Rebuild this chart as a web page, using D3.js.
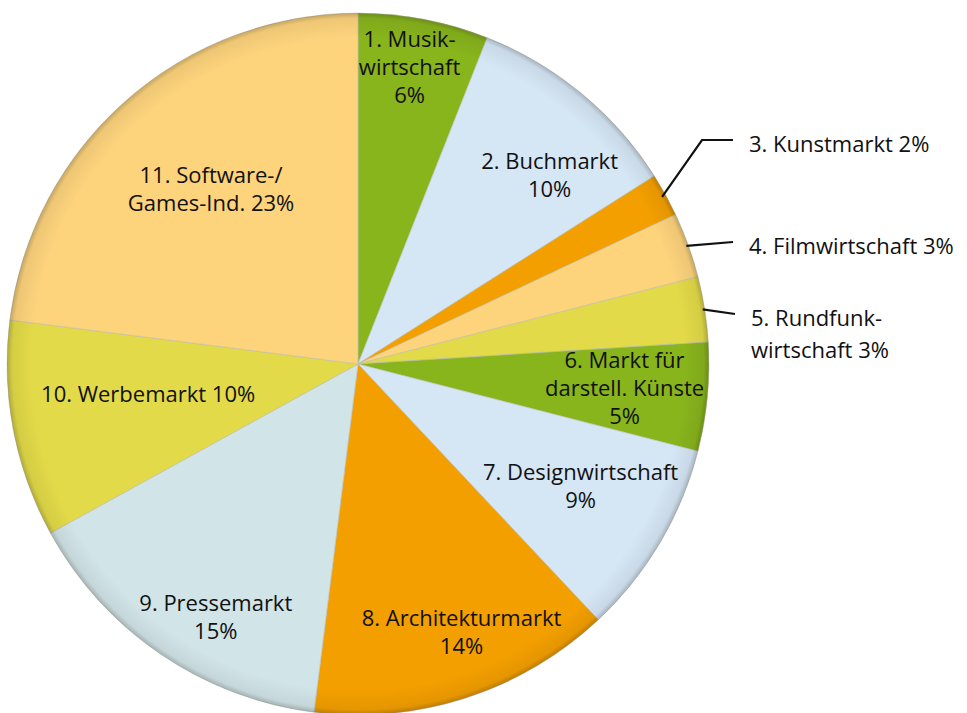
<!DOCTYPE html>
<html><head><meta charset="utf-8">
<script src="https://cdn.jsdelivr.net/npm/d3@7"></script>
<style>body{margin:0;background:#fff}svg{display:block}text{font-family:"Open Sans","Noto Sans",sans-serif;font-size:22px;fill:#111}</style>
</head><body>
<svg id="c" width="967" height="713"></svg>
<script>
const categories = ["1. Musikwirtschaft","2. Buchmarkt","3. Kunstmarkt","4. Filmwirtschaft","5. Rundfunkwirtschaft","6. Markt für darstell. Künste","7. Designwirtschaft","8. Architekturmarkt","9. Pressemarkt","10. Werbemarkt","11. Software-/Games-Ind."];
const values = [6,10,2,3,3,5,9,14,15,10,23];
const labelLines = [
  ["1. Musik-","wirtschaft","6%"],
  ["2. Buchmarkt","10%"],
  ["3. Kunstmarkt 2%"],
  ["4. Filmwirtschaft 3%"],
  ["5. Rundfunk-","wirtschaft 3%"],
  ["6. Markt für","darstell. Künste","5%"],
  ["7. Designwirtschaft","9%"],
  ["8. Architekturmarkt","14%"],
  ["9. Pressemarkt","15%"],
  ["10. Werbemarkt 10%"],
  ["11. Software-/","Games-Ind. 23%"]
];
const colors = ["#88b41c","#d5e6f5","#f39f00","#fdd37c","#e2da48","#88b41c","#d5e6f5","#f39f00","#d1e4e7","#e2da48","#fdd37c"];

const svg = d3.select("#c");
const cx = 358, cy = 364, R = 351;
const g = svg.append("g").attr("transform",`translate(${cx},${cy})`);
const pie = d3.pie().sort(null).value(d=>d);
const arcs = pie(values);
const arc = d3.arc().innerRadius(0).outerRadius(R);

const defs = svg.append("defs");
const rg = defs.append("radialGradient").attr("id","rim").attr("cx",0).attr("cy",0).attr("r",R).attr("gradientUnits","userSpaceOnUse");
rg.append("stop").attr("offset",0.93).attr("stop-color","#000").attr("stop-opacity",0);
rg.append("stop").attr("offset",0.985).attr("stop-color","#000").attr("stop-opacity",0.06);
rg.append("stop").attr("offset",1).attr("stop-color","#000").attr("stop-opacity",0.22);

g.selectAll("path.s").data(arcs).join("path").attr("class","s")
  .attr("d",arc).attr("fill",(d,i)=>colors[i])
  .attr("stroke","#bdbdb0").attr("stroke-width",0.6);
g.append("circle").attr("r",R).attr("fill","url(#rim)");

// inside label layout: [radius fraction, dx, dy]
const inside = {0:[0.86,-5,0],1:[0.7,35,0],5:[0.8,-13,-2],6:[0.72,5,-7],7:[0.77,20,11],8:[0.66,-12,61],9:[0.6,-3,-9],10:[0.56,-17,-27]};
const lh = 28;
arcs.forEach((a,i)=>{
  const m = (a.startAngle+a.endAngle)/2;
  if (inside[i]) {
    const [f,dx,dy] = inside[i];
    const x = Math.sin(m)*R*f + dx, y = -Math.cos(m)*R*f + dy;
    const n = labelLines[i].length;
    const t = g.append("text").attr("text-anchor","middle");
    labelLines[i].forEach((s,k)=>{
      t.append("tspan").attr("x",x).attr("y",y + (k-(n-1)/2)*lh).attr("dy","0.36em").text(s);
    });
  }
});
// outside labels with leader lines
const outside = {2:{elbow:[344,-224],end:[375,-224],tx:391,ty:-220},3:{elbow:null,end:[375,-122],tx:391,ty:-118},4:{elbow:null,end:[377,-50],tx:393,ty:-46}};
Object.keys(outside).forEach(k=>{
  const i=+k, a=arcs[i], o=outside[k];
  const m=(a.startAngle+a.endAngle)/2;
  const r0 = i===2 ? R-4 : R-2;
  const p0=[Math.sin(m)*r0,-Math.cos(m)*r0];
  const pts = o.elbow ? [p0,o.elbow,o.end] : [p0,o.end];
  g.append("path").attr("d",d3.line()(pts)).attr("fill","none").attr("stroke","#111").attr("stroke-width",2.2);
  const t = g.append("text").attr("text-anchor","start");
  labelLines[i].forEach((s,j)=>{
    t.append("tspan").attr("x",o.tx).attr("y",o.ty+j*32).attr("dy","0.36em").text(s);
  });
});
</script></body></html>
